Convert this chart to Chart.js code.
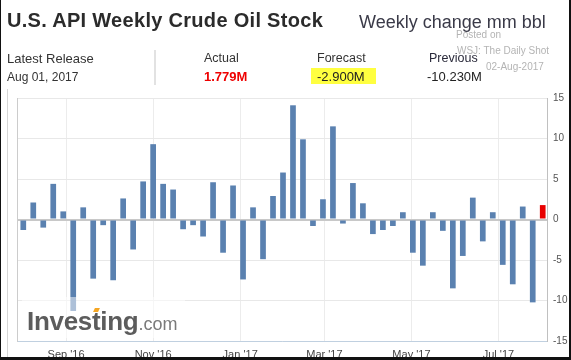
<!DOCTYPE html>
<html>
<head>
<meta charset="utf-8">
<script src="https://cdn.jsdelivr.net/npm/chart.js@4.4.0/dist/chart.umd.min.js"></script>
<style>
html,body{margin:0;padding:0;background:#fff;}
#wrap{position:relative;width:571px;height:360px;overflow:hidden;font-family:"Liberation Sans",Arial,sans-serif;color:#333;background:#fff;}
#c{position:absolute;left:0;top:0;}
.t{position:absolute;white-space:nowrap;line-height:1;}
.lbl{font-size:12.5px;color:#333;}
.val{font-size:13px;color:#222;}
.posted{font-size:10px;color:#b4b4b4;}
#logo{position:absolute;left:22px;top:297px;width:163px;height:41px;background:rgba(255,255,255,0.5);}
.acc{position:relative;}
.acc i{position:absolute;left:2px;top:2px;width:5px;height:4px;background:#f5a623;transform:skewX(-25deg);}
</style>
</head>
<body>
<div id="wrap">
<canvas id="c" width="571" height="360"></canvas>

<div class="t" style="left:7px;top:10px;font-size:20px;font-weight:bold;color:#2b2b2b;letter-spacing:0.3px;">U.S. API Weekly Crude Oil Stock</div>
<div class="t" style="left:359px;top:13px;font-size:18px;color:#3a3a48;">Weekly change mm bbl</div>

<div class="t posted" style="left:456px;top:30px;">Posted on</div>
<div class="t posted" style="left:457px;top:46px;">WSJ: The Daily Shot</div>
<div class="t posted" style="left:486px;top:62px;">02-Aug-2017</div>

<div class="t lbl" style="left:7px;top:52px;font-size:13px;">Latest Release</div>
<div class="t" style="left:7px;top:71px;font-size:12px;color:#333;">Aug 01, 2017</div>
<div style="position:absolute;left:154px;top:50px;width:2px;height:35px;background:#e2e2e2;"></div>

<div class="t lbl" style="left:204px;top:52px;">Actual</div>
<div class="t val" style="left:204px;top:70px;color:#ee0000;font-weight:bold;">1.779M</div>

<div style="position:absolute;left:311px;top:68px;width:65px;height:16px;background:#ffff40;"></div>
<div class="t lbl" style="left:317px;top:52px;">Forecast</div>
<div class="t val" style="left:317px;top:70px;">-2.900M</div>

<div class="t lbl" style="left:429px;top:52px;color:#2a2a3a;">Previous</div>
<div class="t val" style="left:427px;top:70px;">-10.230M</div>

<div id="logo">
  <div class="t" style="left:5px;top:11px;font-size:26px;font-weight:bold;color:#5c5c5c;letter-spacing:-0.3px;">Inves<span class="acc">t<i></i></span>ing<span style="font-size:18px;font-weight:normal;color:#7a7a7a;letter-spacing:0;">.com</span></div>
</div>

<div style="position:absolute;left:7px;top:89px;width:1px;height:271px;background:#d6d6d6;"></div>
<div style="position:absolute;left:0;top:0;width:1px;height:360px;background:#111;"></div>
<div style="position:absolute;right:0;top:0;width:2px;height:360px;background:#111;"></div>
<div style="position:absolute;left:0;bottom:0;width:571px;height:3px;background:#111;"></div>
</div>

<script>
// ---- data ----
const weekDates = [
  '2016-08-02','2016-08-09','2016-08-16','2016-08-23','2016-08-30','2016-09-06','2016-09-13',
  '2016-09-20','2016-09-27','2016-10-04','2016-10-11','2016-10-18','2016-10-25','2016-11-01',
  '2016-11-08','2016-11-15','2016-11-22','2016-11-29','2016-12-06','2016-12-13','2016-12-20',
  '2016-12-27','2017-01-03','2017-01-10','2017-01-17','2017-01-24','2017-01-31','2017-02-07',
  '2017-02-14','2017-02-21','2017-02-28','2017-03-07','2017-03-14','2017-03-21','2017-03-28',
  '2017-04-04','2017-04-11','2017-04-18','2017-04-25','2017-05-02','2017-05-09','2017-05-16',
  '2017-05-23','2017-05-30','2017-06-06','2017-06-13','2017-06-20','2017-06-27','2017-07-04',
  '2017-07-11','2017-07-18','2017-07-25','2017-08-01'
];
const weeklyChange = [
  -1.3, 2.1, -1.0, 4.4, 1.0, -11.3, 1.5,
  -7.3, -0.7, -7.5, 2.6, -3.7, 4.7, 9.3,
  4.4, 3.7, -1.2, -0.7, -2.1, 4.6, -4.1,
  4.2, -7.4, 1.5, -4.9, 2.9, 5.8, 14.1,
  9.9, -0.8, 2.5, 11.5, -0.5, 4.5, 2.0,
  -1.8, -1.3, -0.8, 0.9, -4.1, -5.7, 0.9,
  -1.4, -8.5, -4.5, 2.7, -2.7, 0.9, -5.6,
  -8.0, 1.6, -10.23, 1.779
];
const monthTickDates = ['2016-09-01','2016-11-01','2017-01-01','2017-03-01','2017-05-01','2017-07-01'];
const monthTickLabels = ["Sep '16","Nov '16","Jan '17","Mar '17","May '17","Jul '17"];
const yTickValues = [15, 10, 5, 0, -5, -10, -15];

// ---- build ----
const DAY = 86400000;
const t0 = Date.parse(weekDates[0]);
const dayOf = d => (Date.parse(d) - t0) / DAY;
const points = weekDates.map((d, i) => ({x: dayOf(d), y: weeklyChange[i]}));
const lastIdx = weeklyChange.length - 1;
const barColors = weeklyChange.map((v, i) => i === lastIdx ? '#e80000' : '#5a81b0');

new Chart(document.getElementById('c'), {
  type: 'bar',
  data: {
    datasets: [{
      data: points,
      backgroundColor: barColors,
      borderWidth: 0,
      barPercentage: 0.57,
      categoryPercentage: 1.0,
      yAxisID: 'y'
    }]
  },
  options: {
    responsive: false,
    devicePixelRatio: 1,
    animation: false,
    layout: {padding: {left: 17, top: 98, right: 0, bottom: 0}},
    plugins: {legend: {display: false}, tooltip: {enabled: false}},
    scales: {
      x: {
        type: 'linear',
        offset: false,
        min: dayOf(weekDates[0]) - 4.4,
        max: dayOf(weekDates[lastIdx]) + 3,
        afterBuildTicks: s => { s.ticks = monthTickDates.map(d => ({value: dayOf(d)})); },
        afterFit: s => { s.height = 19; },
        ticks: {
          autoSkip: false, maxRotation: 0, padding: 7,
          color: '#444', font: {family: 'Liberation Sans', size: 11},
          callback: (v, i) => monthTickLabels[i]
        },
        grid: {color: '#ececec', drawTicks: false, offset: false},
        border: {color: '#c0d0e0', width: 1}
      },
      y: {
        position: 'right',
        min: -15, max: 15,
        afterBuildTicks: s => { s.ticks = yTickValues.map(v => ({value: v})); },
        afterFit: s => { s.width = 24; },
        ticks: {
          padding: 6, color: '#555', font: {family: 'Liberation Sans', size: 10}
        },
        grid: {
          drawTicks: false,
          color: c => c.tick && c.tick.value === 0 ? '#c8c8c8' : '#e8e8e8',
          lineWidth: c => c.tick && c.tick.value === 0 ? 2 : 1
        },
        border: {color: '#c0c0c0', width: 1}
      },
      yLeft: {
        position: 'left',
        min: -15, max: 15,
        afterFit: s => { s.width = 0; },
        ticks: {display: false},
        grid: {display: false, drawTicks: false},
        border: {display: true, color: '#cccccc', width: 1}
      }
    }
  }
});
</script>
</body>
</html>
